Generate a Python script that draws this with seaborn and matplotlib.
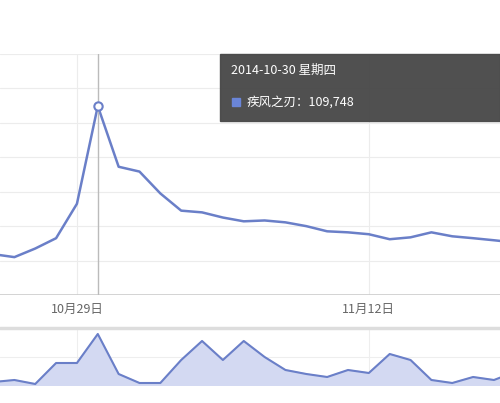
import matplotlib
matplotlib.use("Agg")
import matplotlib.pyplot as plt
import seaborn as sns
import pandas as pd
import numpy as np
from matplotlib.patches import Rectangle

sns.set_style("white")
plt.rcParams['font.family'] = ['Noto Sans CJK SC', 'DejaVu Sans']

# day offsets relative to 2014-10-29
days = list(range(-4, 22))
values = [23700, 22000, 27000, 33000, 53000, 109748, 74500, 71700, 59000, 49000, 48000,
          45000, 42800, 43300, 42200, 40000, 37000, 36400, 35300, 32400, 33500, 36400,
          34100, 33000, 31800, 30500]
mini_values = [4, 6, 2, 23, 23, 52, 12, 3, 3, 26, 45, 26, 45, 29, 16, 12, 9, 16, 13, 32,
               26, 6, 3, 9, 6, 14]
tick_pos = [0, 14]
tick_labels = ["10月29日", "11月12日"]
peak_day = 1
tooltip_date = "2014-10-30 星期四"
tooltip_series = "疾风之刃：109,748"

df = pd.DataFrame({"day": days, "value": values, "mini": mini_values})
line_c = "#6a7fc8"
xlim = (-3.69, 20.29)

fig = plt.figure(figsize=(5, 4.03), dpi=100)
ax = fig.add_axes([0, 108/403, 1, 241/403])
sns.lineplot(data=df, x="day", y="value", ax=ax, color=line_c, lw=1.8)
ax.set_xlim(*xlim)
ax.set_ylim(0, 140000)
ax.set_yticks(np.arange(0, 140001, 20000))
ax.set_xticks(tick_pos)
ax.set_xticklabels(tick_labels, color="#666666", fontsize=9)
ax.set_yticklabels([])
ax.tick_params(length=0, pad=6)
ax.grid(True, color="#ececec", lw=0.8)
for s in ax.spines.values():
    s.set_visible(False)
ax.axhline(0, color="#cccccc", lw=1.2)
ax.axvline(peak_day, color="#bbbbbb", lw=1)
ax.plot([peak_day], [values[days.index(peak_day)]], "o", mfc="white", mec=line_c, mew=1.5, ms=6)
ax.set_xlabel(""); ax.set_ylabel("")

# tooltip
fig.patches.append(Rectangle((220/500, (403-121)/403), 280/500, 67/403,
                             transform=fig.transFigure, color="#4a4a4a", alpha=0.97, zorder=5))
fig.text(231/500, (403-70)/403, tooltip_date, color="white", fontsize=9, va="center", zorder=6)
fig.patches.append(Rectangle((232/500, (403-106)/403), 8/500, 8/403,
                             transform=fig.transFigure, color="#6a85d8", zorder=6))
fig.text(247/500, (403-102)/403, tooltip_series, color="white", fontsize=9, va="center", zorder=6)

# separator
fig.add_artist(plt.Line2D([0, 1], [(403-328)/403]*2, color="#dddddd", lw=2.5))

# mini map
ax2 = fig.add_axes([0, 17/403, 1, 58/403])
ax2.fill_between(df["day"], df["mini"], color="#d3d9f2")
sns.lineplot(data=df, x="day", y="mini", ax=ax2, color=line_c, lw=1.5)
ax2.set_xlim(*xlim)
ax2.set_ylim(0, 58)
ax2.set_xticks(tick_pos)
ax2.set_yticks([29])
ax2.set_xticklabels([]); ax2.set_yticklabels([])
ax2.tick_params(length=0)
ax2.grid(True, color="#eeeeee", lw=0.8)
for s in ax2.spines.values():
    s.set_visible(False)
ax2.set_xlabel(""); ax2.set_ylabel("")

fig.savefig("out.png", dpi=100)
